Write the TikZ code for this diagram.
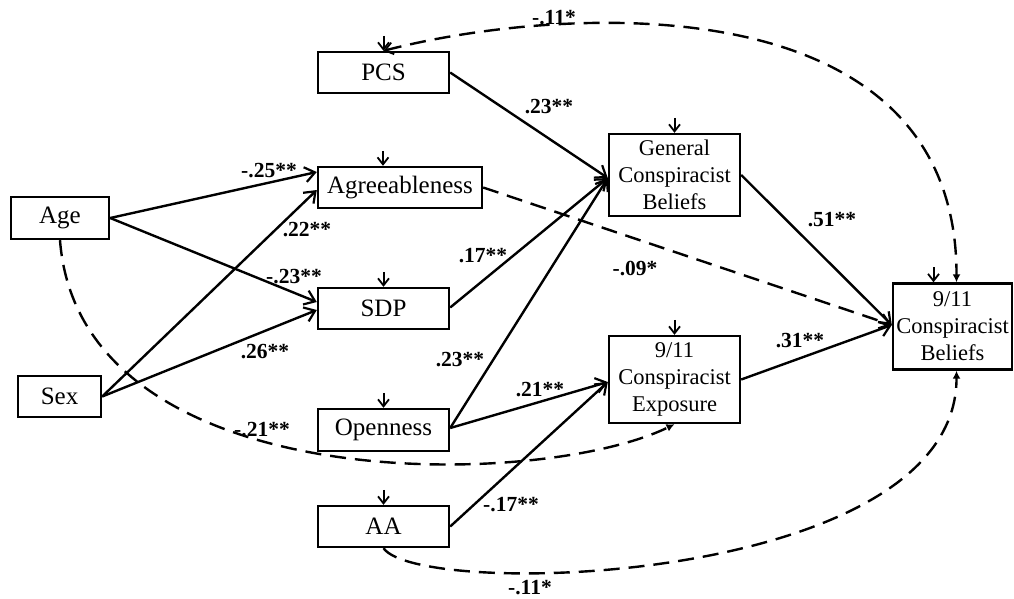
\documentclass[tikz,border=0pt]{standalone}
\usepackage{fontspec}
\setmainfont{Liberation Serif}
\usetikzlibrary{arrows.meta,calc}
\begin{document}
\begin{tikzpicture}[x=1pt,y=-1pt,
 box/.style={draw,line width=2.4pt,inner sep=0pt,font=\fontsize{25}{27}\selectfont},
 mbox/.style={box,align=center,font=\fontsize{22.5}{27}\selectfont},
 pth/.style={line width=2.4pt,-{Straight Barb[length=10pt,width=15pt,line width=2.2pt]}},
 dpth/.style={pth,dash pattern=on 16pt off 9pt},
 cov/.style={line width=2.4pt,dash pattern=on 16pt off 9pt},
 err/.style={line width=2pt,-{Straight Barb[length=7pt,width=11pt,line width=1.8pt]}},
 lab/.style={font=\bfseries\fontsize{21.5}{23}\selectfont,inner sep=1pt}]
\useasboundingbox (0,0) rectangle (1014,598);

% nodes
\node[box,minimum width=131pt,minimum height=41pt] (pcs) at (383.5,72.5) {PCS};
\node[box,minimum width=164pt,minimum height=41pt] (agree) at (400,187.5) {Agreeableness};
\node[box,minimum width=98pt,minimum height=42pt] (age) at (60,218) {Age};
\node[box,minimum width=131pt,minimum height=41pt] (sdp) at (383.5,308.5) {SDP};
\node[box,minimum width=83pt,minimum height=41pt] (sex) at (59.5,396.5) {Sex};
\node[box,minimum width=131pt,minimum height=42pt] (open) at (383.5,430) {Openness};
\node[box,minimum width=131pt,minimum height=41pt] (aa) at (383.5,526.5) {AA};
\node[mbox,minimum width=131pt,minimum height=82pt] (gcb) at (674.5,175) {General\\Conspiracist\\Beliefs};
\node[mbox,minimum width=131pt,minimum height=87pt] (exp) at (674.5,379.5) {9/11\\Conspiracist\\Exposure};
\node[mbox,minimum width=119pt,minimum height=86pt] (bel) at (952.5,326.5) {9/11\\Conspiracist\\Beliefs};

% error arrows
\foreach \n/\dx in {pcs/0,agree/-17,sdp/0,open/0,aa/0,gcb/0,exp/0,bel/-19}
  \draw[err] ([xshift=\dx pt,yshift=15pt]\n.north) -- ([xshift=\dx pt]\n.north);

% paths
\draw[pth] (age.east) -- ([yshift=15.5pt]agree.west);
\draw[pth] (age.east) -- ([yshift=6.5pt]sdp.west);
\draw[pth] (sex.east) -- ([yshift=-2.5pt]agree.west);
\draw[pth] (sex.east) -- ([yshift=-1.5pt]sdp.west);
\draw[pth] (pcs.east) -- ([yshift=-3pt]gcb.west);
\draw[pth] ([yshift=1pt]sdp.east) -- ([yshift=-3pt]gcb.west);
\draw[pth] ([yshift=2pt]open.east) -- ([yshift=-3pt]gcb.west);
\draw[pth] ([yshift=2pt]open.east) -- ([yshift=-2.5pt]exp.west);
\draw[pth] (aa.east) -- ([yshift=-2.5pt]exp.west);
\draw[dpth] (agree.east) -- ([yshift=1.5pt]bel.west);
\draw[pth] (gcb.east) -- ([yshift=1.5pt]bel.west);
\draw[pth] (exp.east) -- ([yshift=1.5pt]bel.west);

% covariances
\draw[cov,{Straight Barb[length=8pt,width=12pt,line width=1.8pt]}-{Latex[length=8pt,width=8pt]}]
  (pcs.north) .. controls (560,5) and (957,-20) .. ([xshift=4pt]bel.north);
\draw[cov,-{Latex[length=8pt,width=8pt]}]
  (age.south) .. controls (80,500) and (540,490) .. (exp.south);
\draw[cov,-{Latex[length=8pt,width=8pt]}]
  (aa.south) .. controls (420,600) and (957,585) .. ([xshift=4pt]bel.south);

% labels
\node[lab] (l1) at (554,18) {-.11*};
\node[lab] (l2) at (269,171) {-.25**};
\node[lab] (l3) at (307,230) {.22**};
\node[lab] (l4) at (294,277) {-.23**};
\node[lab] (l5) at (265,352) {.26**};
\node[lab] (l6) at (262,430) {-.21**};
\node[lab] (l7) at (460,360) {.23**};
\node[lab] (l8) at (483,256) {.17**};
\node[lab] (l9) at (549,107) {.23**};
\node[lab] (l10) at (832,220) {.51**};
\node[lab] (l11) at (635,268) {-.09*};
\node[lab] (l12) at (540,390) {.21**};
\node[lab] (l13) at (800,341) {.31**};
\node[lab] (l14) at (511,505) {-.17**};
\node[lab] (l15) at (530,588) {-.11*};
\end{tikzpicture}
\end{document}
